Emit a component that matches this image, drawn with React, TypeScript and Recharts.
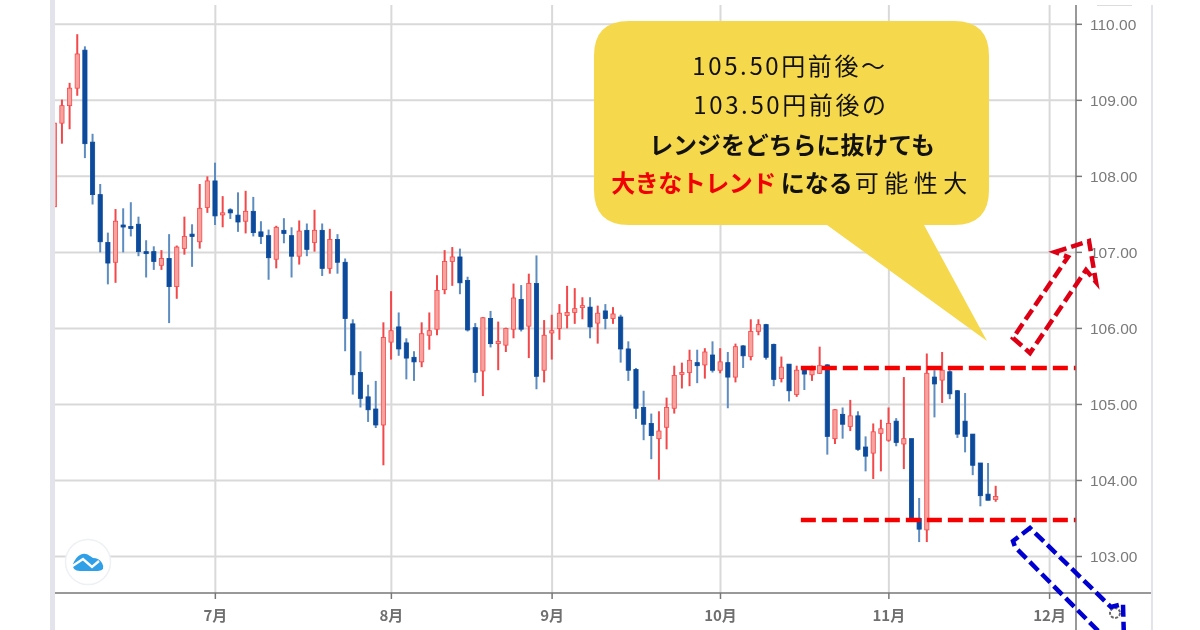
import { Bar, CartesianGrid, ComposedChart, ReferenceLine, XAxis, YAxis } from 'recharts';

// candle values, one entry per trading day
const opens = [
  107.6, 108.7, 108.93, 109.16, 109.66, 108.45, 107.76, 107.13, 106.87, 107.36,
  107.34, 107.37, 107.01, 107.01, 106.83, 106.92, 106.55, 107.05, 107.24, 107.14,
  107.59, 107.94, 107.5, 107.56, 107.49, 107.41, 107.54, 107.27, 107.22, 106.91,
  107.29, 107.22, 106.95, 107.29, 107.13, 107.29, 106.79, 107.17, 106.87, 106.06,
  105.42, 105.1, 104.94, 104.73, 105.82, 106.02, 105.81, 105.62, 105.56, 105.91,
  105.99, 106.51, 106.88, 106.94, 106.63, 106.01, 105.44, 106.13, 105.8, 105.78,
  105.99, 106.38, 106.03, 106.59, 105.45, 105.94, 106.0, 106.17, 106.21, 106.28,
  106.28, 106.07, 106.23, 106.13, 106.15, 105.73, 105.46, 104.96, 104.75, 104.55,
  104.7, 104.95, 105.41, 105.42, 105.55, 105.52, 105.65, 105.45, 105.55, 105.36,
  105.77, 105.63, 105.96, 106.05, 105.79, 105.34, 105.53, 105.13, 105.46, 105.39,
  105.41, 105.52, 104.55, 104.87, 104.71, 104.85, 104.44, 104.36, 104.62, 104.53,
  104.78, 104.48, 104.55, 103.5, 103.35, 105.36, 105.32, 105.43, 105.18, 104.78,
  104.61, 104.23, 103.82, 103.75,
];
const closes = [
  108.7, 108.93, 109.16, 109.61, 108.43, 107.76, 107.14, 106.86, 107.41, 107.34,
  107.32, 107.01, 106.99, 106.88, 106.92, 106.55, 107.07, 107.21, 107.21, 107.58,
  107.94, 107.48, 107.52, 107.52, 107.4, 107.54, 107.26, 107.21, 106.93, 107.33,
  107.25, 106.95, 107.28, 107.04, 107.29, 106.79, 107.17, 106.87, 106.13, 105.39,
  105.08, 104.93, 104.73, 105.88, 105.97, 105.73, 105.61, 105.56, 105.93, 105.97,
  106.5, 106.88, 106.94, 106.6, 105.98, 105.42, 106.14, 105.8, 105.83, 106.0,
  106.4, 105.99, 106.59, 105.37, 105.91, 105.97, 106.2, 106.21, 106.26, 106.3,
  106.02, 106.2, 106.13, 106.19, 105.73, 105.45, 104.95, 104.74, 104.59, 104.65,
  104.96, 105.38, 105.42, 105.58, 105.51, 105.69, 105.45, 105.56, 105.36, 105.76,
  105.64, 105.96, 106.05, 105.62, 105.33, 105.49, 105.18, 105.45, 105.4, 105.45,
  105.51, 104.58, 104.93, 104.74, 104.85, 104.41, 104.32, 104.64, 104.68, 104.75,
  104.5, 104.55, 103.5, 103.36, 105.41, 105.27, 105.45, 105.14, 104.61, 104.58,
  104.2, 103.8, 103.74, 103.79,
];
const highs = [
  108.7, 109.01, 109.23, 109.87, 109.71, 108.56, 107.9, 107.26, 107.57, 107.58,
  107.66, 107.47, 107.16, 107.08, 107.03, 107.24, 107.09, 107.47, 107.37, 107.9,
  108.0, 108.18, 107.74, 107.58, 107.79, 107.81, 107.73, 107.41, 107.3, 107.35,
  107.45, 107.33, 107.42, 107.38, 107.56, 107.38, 107.31, 107.24, 106.92, 106.12,
  105.7, 105.26, 105.31, 106.08, 106.49, 106.21, 105.87, 105.7, 106.08, 106.21,
  106.7, 107.03, 107.07, 107.05, 106.68, 106.07, 106.15, 106.23, 106.09, 106.01,
  106.59, 106.57, 106.72, 106.96, 106.11, 106.18, 106.32, 106.56, 106.53, 106.41,
  106.41, 106.3, 106.32, 106.28, 106.18, 105.83, 105.48, 105.18, 104.88, 104.91,
  105.09, 105.51, 105.55, 105.72, 105.72, 105.74, 105.83, 105.74, 105.69, 105.8,
  105.78, 106.12, 106.12, 106.06, 105.8, 105.63, 105.53, 105.51, 105.5, 105.51,
  105.76, 105.53, 104.94, 104.96, 105.06, 104.91, 104.58, 104.75, 104.8, 104.96,
  104.82, 105.36, 104.55, 103.77, 105.67, 105.45, 105.69, 105.45, 105.19, 105.15,
  104.61, 104.23, 104.23, 103.93,
];
const lows = [
  107.6, 108.43, 108.62, 109.06, 108.24, 107.63, 107.0, 106.58, 106.6, 107.0,
  107.21, 106.95, 106.67, 106.77, 106.77, 106.07, 106.39, 106.97, 106.81, 107.05,
  107.52, 107.36, 107.33, 107.44, 107.27, 107.25, 107.21, 107.11, 106.64, 106.79,
  107.12, 106.67, 106.84, 106.95, 107.01, 106.69, 106.72, 106.72, 105.7, 105.13,
  104.96, 104.77, 104.69, 104.2, 105.59, 105.64, 105.33, 105.31, 105.49, 105.72,
  105.91, 106.45, 106.56, 106.45, 105.96, 105.29, 105.11, 105.75, 105.45, 105.69,
  105.87, 105.96, 105.61, 105.2, 105.29, 105.59, 105.85, 106.0, 106.06, 106.12,
  105.87, 105.8, 105.99, 106.06, 105.55, 105.31, 104.81, 104.53, 104.28, 104.01,
  104.41, 104.88, 105.21, 105.24, 105.28, 105.34, 105.42, 105.41, 104.95, 105.29,
  105.48, 105.58, 105.91, 105.59, 105.24, 105.29, 105.04, 105.1, 105.19, 105.31,
  105.4, 104.34, 104.48, 104.55, 104.65, 104.39, 104.12, 104.02, 104.12, 104.51,
  104.45, 104.15, 103.48, 103.19, 103.19, 104.83, 105.02, 105.07, 104.56, 104.37,
  104.07, 103.66, 103.74, 103.72,
];

const priceTicks = [103, 104, 105, 106, 107, 108, 109, 110];
const monthTicks = [21, 44, 65, 87, 109, 130];
const monthLabels = ['7月', '8月', '9月', '10月', '11月', '12月'];
const rangeHigh = 105.48;
const rangeLow = 103.48;
const rangeStart = 97.5;

const xDomain = [0.05, 133.45];
const yDomain = [102.52, 110.254];

const data = opens.map((open, i) => ({
  i,
  open,
  close: closes[i],
  high: highs[i],
  low: lows[i],
}));

const UP_BODY = '#f8a29e';
const UP_LINE = '#f4474a';
const DOWN_BODY = '#0c4a9c';
const DOWN_WICK = '#5d8cc0';
const FONT = '"Liberation Sans", Arial, sans-serif';
const JP_FONT = '"Noto Sans CJK JP", sans-serif';

function Candle(props: any) {
  const { x, y, width, height, payload } = props;
  const { open, close, high, low } = payload;
  const up = close >= open;
  const cx = x + width / 2;
  const perUnit = height / (high - low);
  const top = y + (high - Math.max(open, close)) * perUnit;
  const bodyHeight = Math.max(Math.abs(close - open) * perUnit, 2);
  return (
    <g>
      <line
        x1={cx}
        x2={cx}
        y1={y}
        y2={y + height}
        stroke={up ? UP_LINE : DOWN_WICK}
        strokeWidth={2}
      />
      <rect
        x={x + 0.4}
        y={top}
        width={width - 0.8}
        height={bodyHeight}
        fill={up ? UP_BODY : DOWN_BODY}
        stroke={up ? UP_LINE : DOWN_BODY}
        strokeWidth={0.8}
      />
    </g>
  );
}

function MonthTick(props: any) {
  const { x, y, payload } = props;
  return (
    <text
      x={x}
      y={y + 20}
      textAnchor="middle"
      fontFamily={JP_FONT}
      fontSize={15}
      fontWeight={700}
      fill="#6f6f6f"
    >
      {monthLabels[monthTicks.indexOf(payload.value)]}
    </text>
  );
}

// speech bubble, arrows and widget chrome sit on top of the chart
function Overlay() {
  return (
    <svg width={1200} height={630} style={{ position: 'absolute', left: 0, top: 0 }}>
      <line x1={1076} x2={1076} y1={593} y2={630} stroke="#777" strokeWidth={1.5} />
      <line x1={1076} x2={1152} y1={593} y2={593} stroke="#777" strokeWidth={1.5} />
      <rect x={50} y={0} width={5} height={630} fill="#e3e3ec" />
      <rect x={1151} y={5} width={2} height={625} fill="#e3e3ec" />
      <line x1={1097} x2={1132} y1={5.5} y2={5.5} stroke="#dcdcdc" />

      <circle cx={88} cy={562} r={22.5} fill="#fff" stroke="#eef1f4" strokeWidth={1.5} />
      <path
        d="M73 564 Q76 557 80 555 Q85 552 90 556 L93 558 Q99 558 102 563 Q106 570 98 571 L80 571 Q72 571 73 564 Z"
        fill="#2f9fe8"
      />
      <path d="M71 567 L83 559 L92 567 L99 561" fill="none" stroke="#fff" strokeWidth={2.4} />
      <circle cx={1115} cy={613} r={5} fill="none" stroke="#666" strokeWidth={2} strokeDasharray="3 1.5" />

      <path
        d="M629 21 H954 Q989 21 989 56 V190 Q989 225 954 225 H924 L987 341 L827 225 H629 Q594 225 594 190 V56 Q594 21 629 21 Z"
        fill="#f5d84c"
      />
      <g fontFamily={JP_FONT} fontSize={24} textAnchor="middle" fill="#111">
        <text x={790} y={75} letterSpacing={2.6}>105.50円前後～</text>
        <text x={791} y={114} letterSpacing={2.6}>103.50円前後の</text>
        <text x={792} y={154} fontWeight={700} letterSpacing={-0.1}>レンジをどちらに抜けても</text>
        <text x={792} y={192}>
          <tspan fontWeight={700} fill="#f00000" letterSpacing={-0.5}>大きなトレンド</tspan>
          <tspan fontWeight={700} dx={5}>になる</tspan>
          <tspan dx={2} letterSpacing={5.5}>可能性大</tspan>
        </text>
      </g>

      <path
        d="M1055 252 L1089 241 L1096 282 L1086 270 L1030 353 L1013 338 L1068 257 Z"
        fill="none"
        stroke="#dd0014"
        strokeWidth={4.5}
        strokeDasharray="12 5"
      />
      <path
        d="M1122 655 L1015 547 L1013 541 L1030 528 L1111 607 L1123 604 L1124 640"
        fill="none"
        stroke="#0000d0"
        strokeWidth={4.5}
        strokeDasharray="12 5"
      />
    </svg>
  );
}

export default function App() {
  return (
    <div
      style={{
        position: 'absolute',
        left: 0,
        top: 0,
        width: 1200,
        height: 630,
        overflow: 'hidden',
        background: '#fff',
        filter: 'blur(0.4px)',
      }}
    >
      <ComposedChart
        width={1200}
        height={630}
        data={data}
        margin={{ top: 5, right: 48, bottom: 0, left: 55 }}
      >
        <CartesianGrid
          stroke="#d9d9d9"
          strokeWidth={2}
          horizontalValues={priceTicks}
          verticalValues={monthTicks}
        />
        <XAxis
          dataKey="i"
          type="number"
          domain={xDomain}
          allowDataOverflow
          ticks={monthTicks}
          height={37}
          interval={0}
          tick={<MonthTick />}
          tickSize={6}
          stroke="#777"
          axisLine={{ stroke: '#777', strokeWidth: 1.5 }}
          tickLine={{ stroke: '#777', strokeWidth: 1.5 }}
        />
        <YAxis
          orientation="right"
          width={76}
          domain={yDomain}
          allowDataOverflow
          ticks={priceTicks}
          interval={0}
          tickFormatter={(v: number) => v.toFixed(2)}
          tick={{ fill: '#7a7a7a', fontSize: 15.5, fontFamily: FONT }}
          tickSize={6}
          tickMargin={8}
          axisLine={{ stroke: '#777', strokeWidth: 1.5 }}
          tickLine={{ stroke: '#777', strokeWidth: 1.5 }}
        />
        <Bar
          dataKey={(d: any) => [d.low, d.high]}
          barSize={5}
          shape={<Candle />}
          isAnimationActive={false}
        />
        {[rangeHigh, rangeLow].map(level => (
          <ReferenceLine
            key={level}
            segment={[
              { x: rangeStart, y: level },
              { x: xDomain[1], y: level },
            ]}
            stroke="#f50000"
            strokeWidth={4.5}
            strokeDasharray="15 6"
          />
        ))}
      </ComposedChart>
      <Overlay />
    </div>
  );
}
